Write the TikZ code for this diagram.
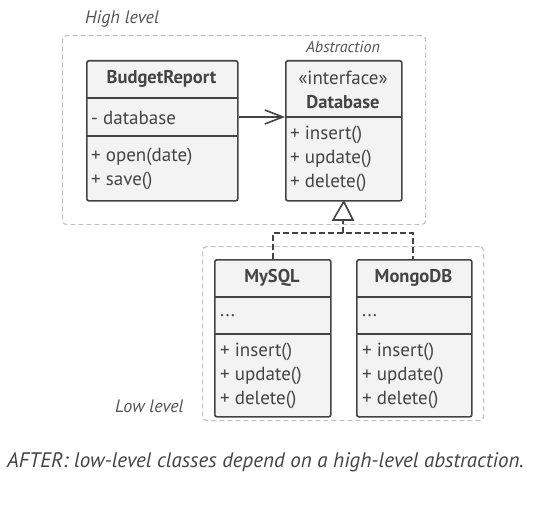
\documentclass[tikz,border=0pt]{standalone}
\usepackage{fontspec}
\setmainfont{PT Sans}
\usetikzlibrary{arrows.meta}
\definecolor{ink}{HTML}{444444}
\definecolor{boxfill}{HTML}{F3F3F3}
\definecolor{grp}{HTML}{C2C2C2}
\definecolor{lbl}{HTML}{555555}
\begin{document}
\begin{tikzpicture}[x=1pt,y=-1pt,
  cls/.style={draw=ink, fill=boxfill, line width=1.6pt, rounded corners=2pt, inner sep=0pt, anchor=north west},
  div/.style={draw=ink, line width=1.6pt},
  txt/.style={anchor=west, inner sep=0pt, text=ink, font=\fontsize{19}{22}\selectfont},
  hdr/.style={anchor=center, inner sep=0pt, text=ink, font=\fontsize{18.5}{22}\selectfont\bfseries},
  group/.style={draw=grp, line width=1.2pt, dash pattern=on 5pt off 3pt, rounded corners=4pt, inner sep=0pt, anchor=north west},
  note/.style={inner sep=0pt, text=lbl, font=\fontsize{18}{21}\selectfont\itshape},
  realize/.style={draw=ink, line width=1.6pt, dash pattern=on 6pt off 3pt}
]
\useasboundingbox (0,0) rectangle (546,511);
\fill[white] (0,0) rectangle (546,511);

% groups
\node[group, minimum width=363, minimum height=189] (high) at (62,35) {};
\node[group, minimum width=281, minimum height=174] (low) at (202,246) {};
\node[note, anchor=west] (highlbl) at (85,19) {High level};
\node[note, anchor=west] (lowlbl) at (115,406) {Low level};
\node[note, anchor=center, font=\fontsize{16}{19}\selectfont\itshape] (abs) at (343,47) {Abstraction};

% BudgetReport
\node[cls, minimum width=151, minimum height=140] (br) at (86,60) {};
\draw[div] (86,98) -- (237,98);
\draw[div] (86,136) -- (237,136);
\node[hdr] (brname) at (161.5,79) {BudgetReport};
\node[txt] (brf) at (91,118) {- database};
\node[txt] (brm1) at (91,157) {+ open(date)};
\node[txt] (brm2) at (91,181) {+ save()};

% Database
\node[cls, minimum width=116, minimum height=140] (db) at (285,60) {};
\coordinate (dbdiv) at (285,117);
\draw[div] (dbdiv) -- (401,117);
\node[anchor=center, inner sep=0pt, text=ink, font=\fontsize{19}{22}\selectfont] (dbst) at (343,78) {«interface»};
\node[hdr] (dbname) at (343,102) {Database};
\node[txt] (dbm1) at (290,135) {+ insert()};
\node[txt] (dbm2) at (290,159) {+ update()};
\node[txt] (dbm3) at (290,183) {+ delete()};

% MySQL
\node[cls, minimum width=116, minimum height=157] (my) at (214,259) {};
\draw[div] (214,297) -- (330,297);
\draw[div] (214,334) -- (330,334);
\node[hdr] (myname) at (272,278) {MySQL};
\node[txt] (myf) at (220,316) {...};
\node[txt] (mym1) at (220,352) {+ insert()};
\node[txt] (mym2) at (220,376) {+ update()};
\node[txt] (mym3) at (220,400) {+ delete()};

% MongoDB
\node[cls, minimum width=115, minimum height=157] (mg) at (356,259) {};
\draw[div] (356,297) -- (471,297);
\draw[div] (356,334) -- (471,334);
\node[hdr] (mgname) at (413.5,278) {MongoDB};
\node[txt] (mgf) at (362,316) {...};
\node[txt] (mgm1) at (362,352) {+ insert()};
\node[txt] (mgm2) at (362,376) {+ update()};
\node[txt] (mgm3) at (362,400) {+ delete()};

% association
\draw[ink, line width=1.6pt, -{Straight Barb[length=18pt,width=14pt,line width=1.6pt]}] (br.east |- dbdiv) -- (dbdiv);

% realization
\coordinate (jn) at (343,233);
\draw[realize] (my.north -| 273,0) -- (273,233) -- (413,233) -- (mg.north -| 413,0);
\draw[realize] (jn) -- (343,220);
\draw[ink, line width=1.6pt, fill=white] (db.south) -- (353,220) -- (333,220) -- cycle;

% caption
\node[anchor=west, inner sep=0pt, text=ink, font=\fontsize{21}{24}\selectfont\itshape] (cap) at (7,462) {AFTER: low-level classes depend on a high-level abstraction.};
\end{tikzpicture}
\end{document}
